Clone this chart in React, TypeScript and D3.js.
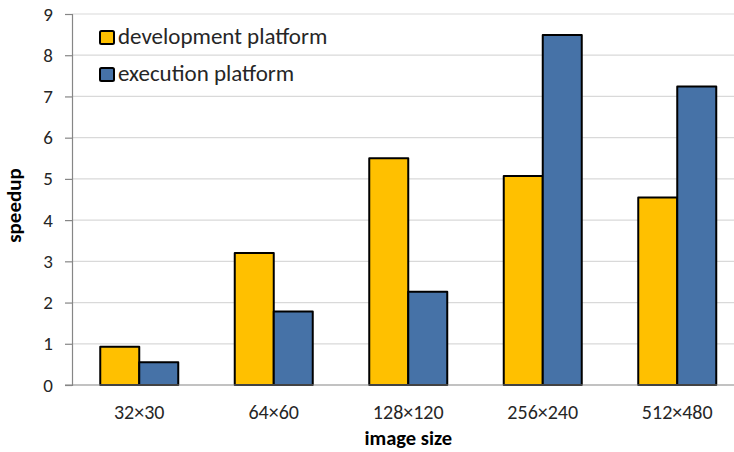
import React, { useEffect, useRef } from 'react'
import * as d3 from 'd3'

const categories = ['32×30', '64×60', '128×120', '256×240', '512×480']
const devValues = [0.93, 3.2, 5.5, 5.07, 4.55]
const execValues = [0.55, 1.78, 2.26, 8.49, 7.24]
const seriesNames = ['development platform', 'execution platform']
const yTicks = [0, 1, 2, 3, 4, 5, 6, 7, 8, 9]

const colors = ['#FFC000', '#4672A7']
const font = 'Carlito, Calibri, Lato, "Open Sans", sans-serif'

const App: React.FC = () => {
  const svgRef = useRef<SVGSVGElement>(null)

  useEffect(() => {
    if (!svgRef.current) return
    const width = 734
    const height = 452
    const left = 72
    const top = 14
    const bottom = 385

    const svg = d3.select(svgRef.current)
    svg.selectAll('*').remove()
    svg.attr('width', width).attr('height', height)

    const x = d3.scaleBand<string>().domain(categories).range([left, 744.5])
    const barW = 39
    const y = d3.scaleLinear().domain([0, 9]).range([bottom, top])

    // grid
    svg
      .append('g')
      .selectAll('line')
      .data(yTicks.filter((d) => d > 0))
      .join('line')
      .attr('x1', left)
      .attr('x2', width)
      .attr('y1', (d) => y(d))
      .attr('y2', (d) => y(d))
      .attr('stroke', '#d9d9d9')
      .attr('stroke-width', 1.2)

    // bars
    const series = [devValues, execValues]
    series.forEach((vals, si) => {
      svg
        .append('g')
        .selectAll('rect')
        .data(vals)
        .join('rect')
        .attr('x', (_, i) => x(categories[i])! + x.bandwidth() / 2 - barW + si * barW)
        .attr('y', (d) => y(d))
        .attr('width', barW)
        .attr('height', (d) => bottom - y(d))
        .attr('fill', colors[si])
        .attr('stroke', '#000')
        .attr('stroke-width', 2)
        .attr('stroke-linejoin', 'round')
    })

    // y axis
    const yAxis = svg
      .append('g')
      .attr('transform', `translate(${left},0)`)
      .call(d3.axisLeft(y).tickValues(yTicks).tickSize(7).tickPadding(12).tickFormat(d3.format('d')))
    yAxis.select('.domain').attr('stroke', '#868686').attr('stroke-width', 1.2)
    yAxis.selectAll('.tick line').attr('stroke', '#868686').attr('stroke-width', 1.2)
    yAxis
      .selectAll('.tick text')
      .attr('fill', '#262626')
      .style('font-family', font)
      .style('font-size', '19px')

    // x axis line
    svg
      .append('line')
      .attr('x1', left - 7)
      .attr('x2', width)
      .attr('y1', bottom)
      .attr('y2', bottom)
      .attr('stroke', '#868686')
      .attr('stroke-width', 1.2)

    svg
      .append('g')
      .selectAll('text')
      .data(categories)
      .join('text')
      .attr('x', (d) => x(d)! + x.bandwidth() / 2)
      .attr('y', 419)
      .attr('text-anchor', 'middle')
      .attr('fill', '#262626')
      .style('font-family', font)
      .style('font-size', '20px')
      .text((d) => d)

    // axis titles
    svg
      .append('text')
      .attr('x', (left + 744.5) / 2)
      .attr('y', 445)
      .attr('text-anchor', 'middle')
      .attr('fill', '#000')
      .style('font-family', font)
      .style('font-size', '20.5px')
      .style('font-weight', 'bold')
      .text('image size')

    svg
      .append('text')
      .attr('transform', `translate(21,${(top + bottom) / 2 + 6}) rotate(-90)`)
      .attr('text-anchor', 'middle')
      .attr('fill', '#000')
      .style('font-family', font)
      .style('font-size', '21px')
      .style('font-weight', 'bold')
      .text('speedup')

    // legend
    const legend = svg.append('g')
    seriesNames.forEach((name, i) => {
      const ly = 31 + i * 37
      legend
        .append('rect')
        .attr('x', 100)
        .attr('y', ly)
        .attr('width', 14)
        .attr('height', 13)
        .attr('fill', colors[i])
        .attr('stroke', '#000')
        .attr('stroke-width', 2)
        .attr('rx', 1.5)
      legend
        .append('text')
        .attr('x', 118)
        .attr('y', ly + 13)
        .attr('fill', '#262626')
        .style('font-family', font)
        .style('font-size', '23px')
        .text(name)
    })
  }, [])

  return (
    <div style={{ position: 'absolute', left: 0, top: 0 }}>
      <svg ref={svgRef} style={{ display: 'block', background: '#fff' }}></svg>
    </div>
  )
}

export default App
